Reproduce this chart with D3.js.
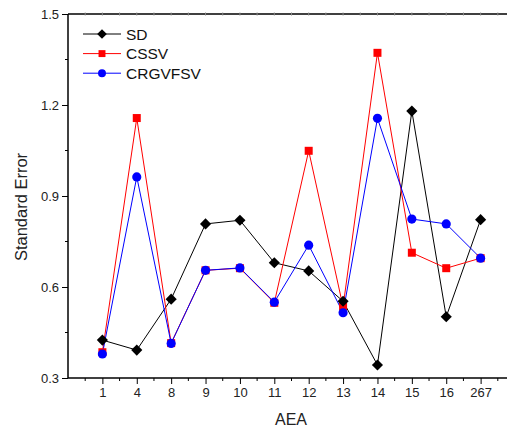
<!DOCTYPE html>
<html>
<head>
<meta charset="utf-8">
<script src="https://cdnjs.cloudflare.com/ajax/libs/d3/7.8.5/d3.min.js"></script>
<style>
  body { margin: 0; background: #fff; }
  svg { display: block; font-family: "Liberation Sans", Arial, sans-serif; }
</style>
</head>
<body>
<div id="chart"></div>
<script>
// categories on the AEA axis
var categories = ["1", "4", "8", "9", "10", "11", "12", "13", "14", "15", "16", "267"];

// standard error per series
var sdValues      = [0.425, 0.392, 0.560, 0.808, 0.820, 0.680, 0.653, 0.553, 0.343, 1.180, 0.502, 0.822];
var cssvValues    = [0.385, 1.157, 0.415, 0.655, 0.662, 0.548, 1.049, 0.535, 1.372, 0.713, 0.662, 0.695];
var crgvfsvValues = [0.379, 0.963, 0.414, 0.655, 0.663, 0.550, 0.738, 0.515, 1.156, 0.824, 0.808, 0.695];

var yTicks = [0.3, 0.6, 0.9, 1.2, 1.5];

var series = [
    { name: "SD",      values: sdValues,      color: "#000000", symbol: d3.symbolSquare, size: 62, rot: 45 },
    { name: "CSSV",    values: cssvValues,    color: "#ff0000", symbol: d3.symbolSquare, size: 64, rot: 0 },
    { name: "CRGVFSV", values: crgvfsvValues, color: "#0000ff", symbol: d3.symbolCircle, size: 66, rot: 0 }
];
// markers go down red first, then black, then blue
var markerOrder = [1, 0, 2];

var width = 507, height = 432;
var margin = { left: 68, top: 14, bottom: 54 };
var plotRight = 515; // frame runs past the picture edge

var svg = d3.select("#chart").append("svg")
    .attr("width", width)
    .attr("height", height);

// position 0 is the left frame, categories sit at 1..12
var x = d3.scaleLinear()
    .domain([0, categories.length + 1])
    .range([margin.left, plotRight]);

var y = d3.scaleLinear()
    .domain([0.3, 1.5])
    .range([height - margin.bottom, margin.top]);

var catIdx = d3.range(categories.length).map(function (i) { return i + 1; });
var halfIdx = d3.range(0, categories.length + 1).map(function (i) { return i + 0.5; });
var yMinor = [0.45, 0.75, 1.05, 1.35];

// top frame line with small ticks
svg.append("line")
    .attr("x1", margin.left).attr("x2", plotRight)
    .attr("y1", y(1.5)).attr("y2", y(1.5))
    .attr("stroke", "#000").attr("stroke-width", 1.5);
svg.selectAll(".topTick")
    .data(catIdx.concat(halfIdx))
    .enter().append("line")
    .attr("class", "topTick")
    .attr("x1", function (d) { return x(d); })
    .attr("x2", function (d) { return x(d); })
    .attr("y1", y(1.5) - 1.5).attr("y2", y(1.5) + 1.5)
    .attr("stroke", "#888");

// bottom axis
var xAxis = svg.append("g")
    .attr("transform", "translate(0," + y(0.3) + ")")
    .call(d3.axisBottom(x)
        .tickValues(catIdx)
        .tickFormat(function (d) { return categories[d - 1]; })
        .tickSize(6)
        .tickPadding(4));
xAxis.select(".domain").attr("stroke-width", 1.5).attr("d", "M" + margin.left + ",0H" + plotRight);
xAxis.selectAll("text").attr("font-size", 13).attr("fill", "#222").attr("font-family", "Liberation Sans, Arial, sans-serif");

svg.selectAll(".xMinor")
    .data(halfIdx)
    .enter().append("line")
    .attr("class", "xMinor")
    .attr("x1", function (d) { return x(d); })
    .attr("x2", function (d) { return x(d); })
    .attr("y1", y(0.3)).attr("y2", y(0.3) + 3)
    .attr("stroke", "#000");

// left axis
var yAxis = svg.append("g")
    .attr("transform", "translate(" + margin.left + ",0)")
    .call(d3.axisLeft(y)
        .tickValues(yTicks)
        .tickFormat(d3.format(".1f"))
        .tickSize(6)
        .tickPadding(3));
yAxis.select(".domain").attr("stroke-width", 1.5).attr("d", "M0," + y(0.3) + "V" + y(1.5));
yAxis.selectAll("text").attr("font-size", 13).attr("fill", "#222").attr("font-family", "Liberation Sans, Arial, sans-serif");

svg.selectAll(".yMinor")
    .data(yMinor)
    .enter().append("line")
    .attr("class", "yMinor")
    .attr("x1", margin.left - 3).attr("x2", margin.left)
    .attr("y1", function (d) { return y(d); })
    .attr("y2", function (d) { return y(d); })
    .attr("stroke", "#000");

// axis titles
svg.append("text")
    .attr("x", 291).attr("y", 425)
    .attr("text-anchor", "middle")
    .attr("font-size", 16)
    .attr("fill", "#222")
    .text("AEA");

svg.append("text")
    .attr("transform", "translate(27,207) rotate(-90)")
    .attr("text-anchor", "middle")
    .attr("font-size", 16.5)
    .attr("fill", "#222")
    .text("Standard Error");

// lines, then markers
var line = d3.line()
    .x(function (d, i) { return x(i + 1); })
    .y(function (d) { return y(d); });

series.forEach(function (s) {
    svg.append("path")
        .datum(s.values)
        .attr("fill", "none")
        .attr("stroke", s.color)
        .attr("stroke-width", 1)
        .attr("d", line);
});

markerOrder.forEach(function (k) {
    var s = series[k];
    svg.selectAll(".m-" + s.name)
        .data(s.values)
        .enter().append("path")
        .attr("class", "m-" + s.name)
        .attr("transform", function (d, i) {
            return "translate(" + x(i + 1) + "," + y(d) + ") rotate(" + s.rot + ")";
        })
        .attr("d", d3.symbol().type(s.symbol).size(s.size))
        .attr("fill", s.color);
});

// legend
var legend = svg.append("g").attr("transform", "translate(83,34)");
series.forEach(function (s, i) {
    var g = legend.append("g").attr("transform", "translate(0," + (i * 19.6) + ")");
    g.append("line")
        .attr("x1", 0).attr("x2", 38)
        .attr("stroke", s.color);
    g.append("path")
        .attr("transform", "translate(19,0) rotate(" + s.rot + ")")
        .attr("d", d3.symbol().type(s.symbol).size(s.size * 0.75))
        .attr("fill", s.color);
    g.append("text")
        .attr("x", 43).attr("y", 5.5)
        .attr("font-size", 15.5)
        .attr("fill", "#111")
        .text(s.name);
});
</script>
</body>
</html>
